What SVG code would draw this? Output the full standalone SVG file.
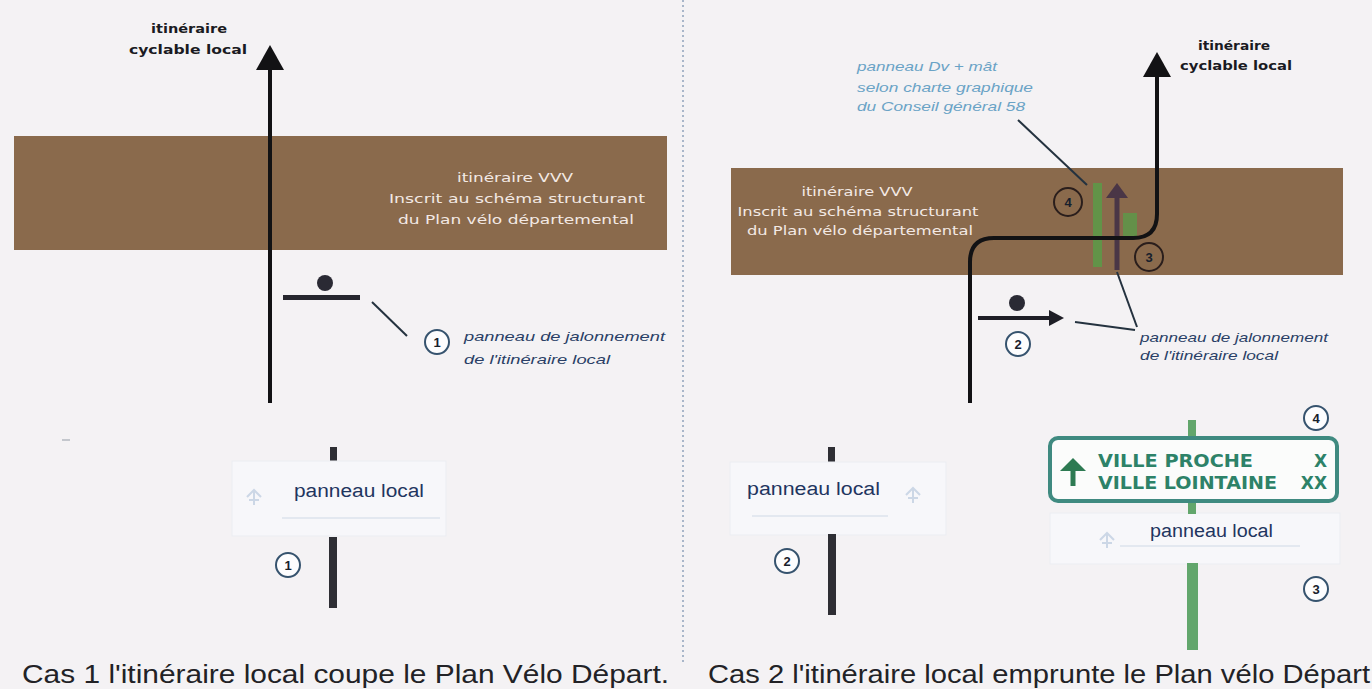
<svg xmlns="http://www.w3.org/2000/svg" width="1372" height="689" viewBox="0 0 1372 689">
<style>
.band{fill:#8a6a4c}
.bandtxt{font-family:"DejaVu Sans",sans-serif;font-size:13px;fill:#f3e9e4;text-anchor:middle}
.route{fill:none;stroke:#121214;stroke-width:4}
.lbl{font-family:"DejaVu Sans",sans-serif;font-weight:bold;font-size:12px;fill:#1a1a22;text-anchor:middle}
.ital{font-family:"Liberation Sans",sans-serif;font-style:italic;font-size:13px;fill:#2a3f66}
.blue{font-family:"Liberation Sans",sans-serif;font-style:italic;font-size:13px;fill:#6aa3c6}
.lead{stroke:#24323f;stroke-width:2;fill:none}
.num{fill:#fdfdfe;stroke:#36536e;stroke-width:2}
.numb{fill:none;stroke:#2a1e1c;stroke-width:2}
.numt{font-family:"Liberation Sans",sans-serif;font-weight:bold;font-size:13px;fill:#17202c;text-anchor:middle}
.pole{fill:#2e2e34}
.gpole{fill:#62a66c}
.panel{fill:#f7f7fa;stroke:#ebedf2;stroke-width:1}
.ptxt{font-family:"Liberation Sans",sans-serif;font-size:18px;fill:#1f3560}
.faint{stroke:#dde3ec;stroke-width:1.5}
.icon{fill:none;stroke:#ccd7e6;stroke-width:2}
.cap{font-family:"Liberation Sans",sans-serif;font-size:25px;fill:#222226}
.ville{font-family:"DejaVu Sans",sans-serif;font-weight:bold;font-size:17px;fill:#2d8268}
</style>
<defs>
<marker id="headBig" markerUnits="userSpaceOnUse" markerWidth="26" markerHeight="28" refX="0" refY="14" orient="auto" viewBox="0 0 26 28">
<path d="M0,0 L25,14 L0,28 Z" fill="#121214"/>
</marker>
<marker id="headSmall" markerUnits="userSpaceOnUse" markerWidth="16" markerHeight="16" refX="0" refY="8" orient="auto" viewBox="0 0 16 16">
<path d="M0,0 L15,8 L0,16 Z" fill="#1e1e26"/>
</marker>
<marker id="headPurple" markerUnits="userSpaceOnUse" markerWidth="16" markerHeight="22" refX="0" refY="11" orient="auto" viewBox="0 0 16 22">
<path d="M0,0 L15,11 L0,22 Z" fill="#4a3646"/>
</marker>
<marker id="headGreen" markerUnits="userSpaceOnUse" markerWidth="14" markerHeight="26" refX="0" refY="13" orient="auto" viewBox="0 0 14 26">
<path d="M0,0 L13,13 L0,26 Z" fill="#2d7a52"/>
</marker>
</defs>
<rect width="1372" height="689" fill="#f4f2f4"/>
<line x1="683" y1="0" x2="683" y2="662" stroke="#8ea3ba" stroke-width="1.5" stroke-dasharray="2,3"/>

<g id="case1">
<g id="band1">
<rect class="band" x="14" y="136" width="653" height="114"/>
<text class="bandtxt" x="515" y="182" textLength="116" lengthAdjust="spacingAndGlyphs">itinéraire VVV</text>
<text class="bandtxt" x="517" y="203" textLength="256" lengthAdjust="spacingAndGlyphs">Inscrit au schéma structurant</text>
<text class="bandtxt" x="516" y="224" textLength="236" lengthAdjust="spacingAndGlyphs">du Plan vélo départemental</text>
</g>
<g id="label1">
<text class="lbl" x="189" y="33" textLength="76" lengthAdjust="spacingAndGlyphs">itinéraire</text>
<text class="lbl" x="188" y="54" textLength="118" lengthAdjust="spacingAndGlyphs">cyclable local</text>
</g>
<g id="sign1-plan">
<circle cx="325" cy="283" r="8" fill="#2a2a34"/>
<rect x="283" y="295" width="77" height="5" fill="#26262e"/>
</g>
<g id="callout1">
<circle class="num" cx="437" cy="342" r="12"/>
<text class="numt" x="437" y="347">1</text>
<text class="ital" x="464" y="341" textLength="201" lengthAdjust="spacingAndGlyphs">panneau de jalonnement</text>
<text class="ital" x="464" y="364" textLength="146" lengthAdjust="spacingAndGlyphs">de l'itinéraire local</text>
</g>
<g id="sign1-panel">
<rect class="pole" x="330" y="447" width="7" height="15"/>
<rect class="panel" x="232" y="461" width="214" height="75"/>
<path class="icon" d="M247,497 L254,490 L261,497 M254,490 V505 M249,500 H259"/>
<text class="ptxt" x="294" y="497" textLength="130" lengthAdjust="spacingAndGlyphs">panneau local</text>
<line class="faint" x1="282" y1="518" x2="440" y2="518"/>
<rect class="pole" x="329" y="537" width="8" height="71"/>
<circle class="num" cx="288" cy="565" r="12"/>
<text class="numt" x="288" y="570">1</text>
</g>
<line x1="62" y1="440" x2="70" y2="440" stroke="#b4b8c0" stroke-width="1.5"/>
<text class="cap" x="22" y="683" textLength="647" lengthAdjust="spacingAndGlyphs">Cas 1 l'itinéraire local coupe le Plan Vélo Départ.</text>
</g>

<g id="case2">
<g id="band2">
<rect class="band" x="731" y="168" width="612" height="107"/>
<text class="bandtxt" x="857" y="196" textLength="111" lengthAdjust="spacingAndGlyphs">itinéraire VVV</text>
<text class="bandtxt" x="858" y="216" textLength="241" lengthAdjust="spacingAndGlyphs">Inscrit au schéma structurant</text>
<text class="bandtxt" x="860" y="235" textLength="226" lengthAdjust="spacingAndGlyphs">du Plan vélo départemental</text>
</g>
<g id="label2">
<text class="lbl" x="1234" y="50" textLength="72" lengthAdjust="spacingAndGlyphs">itinéraire</text>
<text class="lbl" x="1236" y="70" textLength="112" lengthAdjust="spacingAndGlyphs">cyclable local</text>
</g>
<g id="bluenote">
<text class="blue" x="857" y="71" textLength="140" lengthAdjust="spacingAndGlyphs">panneau Dv + mât</text>
<text class="blue" x="857" y="92" textLength="176" lengthAdjust="spacingAndGlyphs">selon charte graphique</text>
<text class="blue" x="857" y="111" textLength="168" lengthAdjust="spacingAndGlyphs">du Conseil général 58</text>
</g>
<g id="dv-sign-plan">
<rect x="1093" y="183" width="9" height="84" fill="#5a9a48" opacity="0.85"/>
<rect x="1123" y="213" width="14" height="24" fill="#5a9a48" opacity="0.8"/>
<line x1="1117" y1="270" x2="1117" y2="198" stroke="#4a3646" stroke-width="5" marker-end="url(#headPurple)"/>
<circle class="numb" cx="1068" cy="202" r="14"/>
<text class="numt" x="1068" y="207">4</text>
<circle class="numb" cx="1149" cy="257" r="14"/>
<text class="numt" x="1149" y="262">3</text>
</g>
<g id="sign2-plan">
<circle cx="1017" cy="303" r="8" fill="#2a2a34"/>
<line x1="978" y1="318" x2="1049" y2="318" stroke="#1e1e26" stroke-width="4" marker-end="url(#headSmall)"/>
<circle class="num" cx="1018" cy="344" r="12"/>
<text class="numt" x="1018" y="349">2</text>
</g>
<g id="callout2">
<text class="ital" x="1140" y="342" textLength="188" lengthAdjust="spacingAndGlyphs">panneau de jalonnement</text>
<text class="ital" x="1140" y="360" textLength="138" lengthAdjust="spacingAndGlyphs">de l'itinéraire local</text>
</g>
<g id="sign2-panel">
<rect class="pole" x="828" y="447" width="7" height="15"/>
<rect class="panel" x="730" y="462" width="216" height="73"/>
<text class="ptxt" x="747" y="495" textLength="133" lengthAdjust="spacingAndGlyphs">panneau local</text>
<line class="faint" x1="752" y1="516" x2="888" y2="516"/>
<path class="icon" d="M906,495 L913,488 L920,495 M913,488 V503 M908,498 H918"/>
<rect class="pole" x="828" y="534" width="8" height="81"/>
<circle class="num" cx="787" cy="561" r="12"/>
<text class="numt" x="787" y="566">2</text>
</g>
<g id="sign3-4-panel">
<rect class="gpole" x="1188" y="420" width="8" height="18"/>
<rect class="panel" x="1050" y="513" width="290" height="51"/>
<rect class="gpole" x="1188" y="502" width="8" height="12"/>
<rect x="1050" y="438" width="287" height="63" rx="8" fill="#fbfcfb" stroke="#3f8a80" stroke-width="4"/>
<line x1="1073" y1="486" x2="1073" y2="471" stroke="#2d7a52" stroke-width="5" marker-end="url(#headGreen)"/>
<text class="ville" x="1098" y="467" textLength="155" lengthAdjust="spacingAndGlyphs">VILLE PROCHE</text>
<text class="ville" x="1098" y="489" textLength="179" lengthAdjust="spacingAndGlyphs">VILLE LOINTAINE</text>
<text class="ville" x="1327" y="467" text-anchor="end">X</text>
<text class="ville" x="1327" y="489" text-anchor="end">XX</text>
<text class="ptxt" x="1150" y="537" textLength="123" lengthAdjust="spacingAndGlyphs" font-size="16">panneau local</text>
<line class="faint" x1="1120" y1="546" x2="1300" y2="546"/>
<path class="icon" d="M1100,540 L1107,533 L1114,540 M1107,533 V548 M1102,543 H1112"/>
<rect class="gpole" x="1187" y="563" width="11" height="87"/>
<circle class="num" cx="1316" cy="418" r="12"/>
<text class="numt" x="1316" y="423">4</text>
<circle class="num" cx="1316" cy="589" r="12"/>
<text class="numt" x="1316" y="594">3</text>
</g>
<text class="cap" x="708" y="683" textLength="662" lengthAdjust="spacingAndGlyphs">Cas 2 l'itinéraire local emprunte le Plan vélo Départ</text>
</g>

<g id="connectors">
<line class="route" x1="270" y1="403" x2="270" y2="70" marker-end="url(#headBig)"/>
<path class="route" d="M970,403 V262 Q970,238 994,238 H1133 Q1157,238 1157,214 V77" marker-end="url(#headBig)"/>
<line class="lead" x1="372" y1="302" x2="407" y2="336"/>
<line class="lead" x1="1018" y1="120" x2="1087" y2="185"/>
<line class="lead" x1="1075" y1="322" x2="1135" y2="330"/>
<line class="lead" x1="1117" y1="272" x2="1137" y2="327"/>
</g>
</svg>
